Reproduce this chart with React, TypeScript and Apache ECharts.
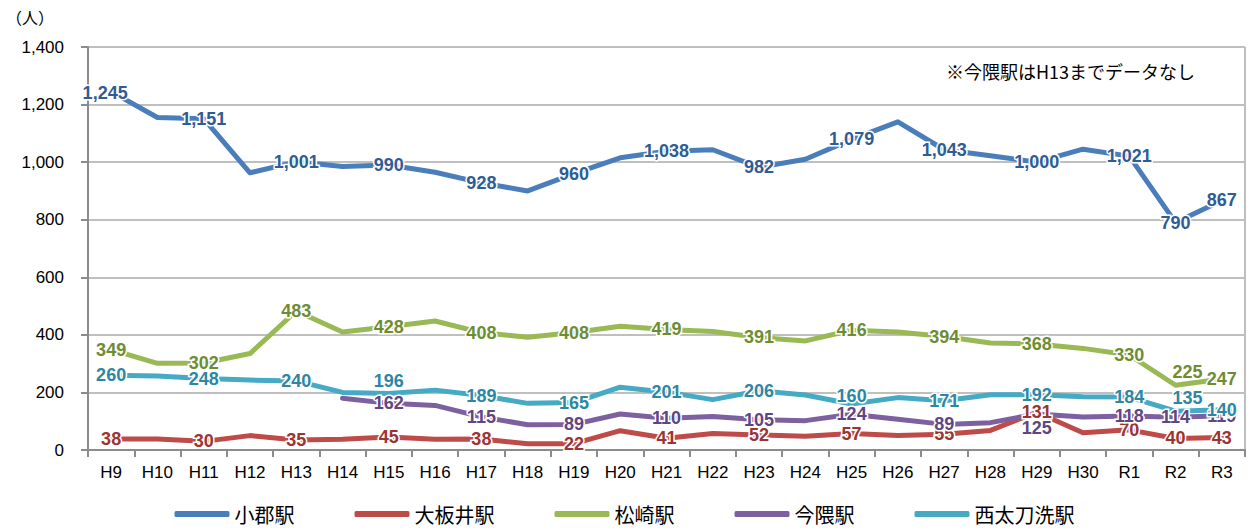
import React, { useEffect, useRef } from "react";
import * as echarts from "echarts";

const categories = ["H9","H10","H11","H12","H13","H14","H15","H16","H17","H18","H19","H20","H21","H22","H23","H24","H25","H26","H27","H28","H29","H30","R1","R2","R3"];

const ogori = [1245,1155,1151,963,1001,985,990,965,928,900,960,1015,1038,1043,982,1010,1079,1140,1043,1022,1000,1045,1021,790,867];
const oitai = [38,38,30,50,35,37,45,37,38,22,22,67,41,57,52,48,57,50,55,68,131,60,70,40,43];
const matsuzaki = [349,301,302,335,483,410,428,448,408,392,408,430,419,412,391,379,416,410,394,372,368,353,330,225,247];
const imaguma = [null,null,null,null,null,180,162,155,115,88,89,125,110,116,105,102,124,107,89,95,125,115,118,114,119];
const nishitachiarai = [260,257,248,243,240,200,196,208,189,162,165,218,201,175,206,191,160,182,171,192,192,185,184,135,140];

const labeledIdx = [0,2,4,6,8,10,12,14,16,18,20,22,23,24];
const yTicks = { min: 0, max: 1400, interval: 200 };

const seriesDefs = [
  { name: "小郡駅", data: ogori, color: "#4a7ebb", label: "#2f5c94", offsets: { 0: 1 } as Record<number, number>, dx: { 0: -6 } as Record<number, number> },
  { name: "大板井駅", data: oitai, color: "#be4b48", label: "#9c3431", offsets: {} as Record<number, number>, dx: {} as Record<number, number> },
  { name: "松崎駅", data: matsuzaki, color: "#98b954", label: "#6e8d33", offsets: { 23: -13 } as Record<number, number>, dx: { 23: 12 } as Record<number, number> },
  { name: "今隈駅", data: imaguma, color: "#7d60a0", label: "#5f4682", offsets: { 20: 14 } as Record<number, number>, dx: {} as Record<number, number> },
  { name: "西太刀洗駅", data: nishitachiarai, color: "#46aac5", label: "#2d87a3", offsets: { 6: -13, 16: -8, 23: -13 } as Record<number, number>, dx: { 23: 12 } as Record<number, number> },
];

const FONT = "'Liberation Sans', 'Noto Sans CJK JP', sans-serif";

export default function App() {
  const ref = useRef<HTMLDivElement>(null);
  useEffect(() => {
    if (!ref.current) return;
    const chart = echarts.init(ref.current, null, { renderer: "svg" });
    const series = seriesDefs.map((s) => ({
      name: s.name,
      type: "line",
      data: s.data.map((v, i) => {
        if (v === null) return "-";
        const item: any = { value: v };
        if (labeledIdx.includes(i)) item.label = { show: true };
        return item;
      }),
      symbol: "circle",
      symbolSize: 1,
      showSymbol: true,
      lineStyle: { width: 5, color: s.color, cap: "round", join: "round" },
      itemStyle: { color: s.color },
      label: {
        show: false,
        position: "inside",
        color: s.label,
        fontSize: 18,
        fontWeight: "bold",
        fontFamily: FONT,
        textBorderColor: "#ffffff",
        textBorderWidth: 3,
        formatter: (p: any) => Number(p.value).toLocaleString("en-US"),
      },
      labelLayout: (params: any) => ({
        hideOverlap: false,
        dx: s.dx[params.dataIndex] || 0,
        dy: s.offsets[params.dataIndex] || 0,
      }),
      emphasis: { disabled: true },
      z: 2,
    }));

    chart.setOption({
      animation: false,
      grid: { left: 88, right: 4, top: 47, bottom: 78, containLabel: false, show: false },
      xAxis: {
        type: "category",
        data: categories,
        boundaryGap: true,
        axisLine: { lineStyle: { color: "#8c8c8c", width: 2 } },
        axisTick: { show: true, length: 7, lineStyle: { color: "#8c8c8c", width: 2 } },
        axisLabel: { color: "#000", fontSize: 17, fontFamily: FONT, margin: 14, interval: 0 },
      },
      yAxis: {
        type: "value",
        min: yTicks.min,
        max: yTicks.max,
        interval: yTicks.interval,
        axisLine: { show: true, lineStyle: { color: "#8c8c8c", width: 2 } },
        axisTick: { show: true, length: 7, lineStyle: { color: "#8c8c8c", width: 2 } },
        splitLine: { show: true, lineStyle: { color: "#bfbfbf", width: 2 } },
        axisLabel: {
          color: "#000",
          fontSize: 17,
          fontFamily: FONT,
          margin: 24,
          formatter: (v: number) => v.toLocaleString("en-US"),
        },
      },
      legend: {
        data: seriesDefs.map((s) => s.name),
        left: "center",
        top: 503,
        padding: [0, 5],
        icon: "roundRect",
        itemWidth: 55,
        itemHeight: 6,
        itemGap: 60,
        textStyle: { color: "#000", fontSize: 20, lineHeight: 22, fontFamily: "'Noto Sans CJK JP', sans-serif" },
      },
      graphic: [
        {
          type: "text",
          left: 6,
          top: 9,
          style: { text: "（人）", fontSize: 16, fill: "#000", fontFamily: "'Noto Sans CJK JP', sans-serif" },
        },
        {
          type: "text",
          left: 946,
          top: 62,
          style: { text: "※今隈駅はH13までデータなし", fontSize: 18, fill: "#000", fontFamily: "'Noto Sans CJK JP', sans-serif" },
        },
        {
          type: "line",
          shape: { x1: 1245, y1: 47, x2: 1245, y2: 450 },
          style: { stroke: "#bfbfbf", lineWidth: 2 },
        },
      ],
      series,
    });
    return () => chart.dispose();
  }, []);
  return (
    <div
      ref={ref}
      style={{ position: "fixed", left: 0, top: 0, width: 1249, height: 528, background: "#fff" }}
    />
  );
}
